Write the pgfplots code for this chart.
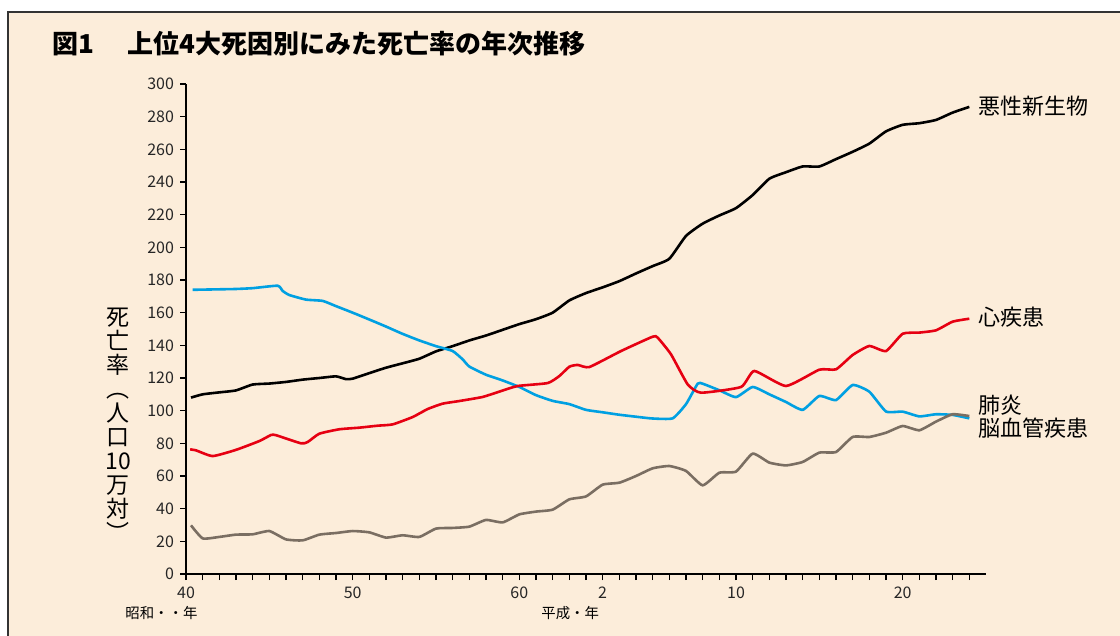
\documentclass[border=0pt]{standalone}
\usepackage{pgfplots}
\usepackage{pgfplotstable}
\pgfplotsset{compat=1.18}
\usepackage{fontspec}
\setmainfont{Noto Sans CJK JP}
\definecolor{bg}{RGB}{252,237,218}
\definecolor{cblue}{RGB}{0,160,226}
\definecolor{cred}{RGB}{230,0,18}
\definecolor{cgray}{RGB}{122,110,98}

\pgfplotstableread{
t v
0.3 108
1 110
2 111.2
3 112.4
4 116
5 116.6
6 117.6
7 119
8 120
9 121
9.6 119.3
10 119.6
11 123
12 126.3
13 129
14 131.8
15 136.3
16 139.5
17 143
18 146
19 149.5
20 153
21 156
22 160
23 167.5
24 172
25 175.5
26 179.3
27 184
28 188.5
29 193
30 207
31 214.5
32 219.5
33 224
34 232
35 242
36 246
37 249.5
38 249.5
39 254
40 258.5
41 263.5
42 271
43 275
44 276
45 278
46 282.5
47 286
}\tblack

\pgfplotstableread{
t v
0.4 174
2 174.3
3 174.5
4 175
5.5 176.5
5.8 173.3
6.2 170.8
7.2 168
8.2 167.2
9 164
10 160
11 155.8
12 151.5
13 147
14 143
15 139.5
16 136.5
16.6 131.4
17 127
18 122
19 118.5
20 114.5
21 109.5
22 106
23 104
24 100.5
25 99
26 97.5
27 96.3
28 95.2
29.2 95.3
30 104
30.7 116.5
31 116.5
32 112.5
33 108.3
34 114.5
35 110
36 105.3
37 100.5
38 109
39 106.5
40 115.7
41 111.6
42 99.5
43 99.4
44 96.5
45 97.8
46 97.4
47 95.3
}\tblue

\pgfplotstableread{
t v
0.25 76.3
0.6 75.7
1.6 72.2
3 76
4.4 81.4
5.1 85.1
5.4 85
6.9 80
7.3 80.8
8 85.9
9.2 88.6
10.4 89.6
11.5 90.8
12.4 91.6
13.6 96.1
14.5 101
15.4 104.3
16.4 105.9
17.8 108.4
18.9 112
19.9 115.1
21.7 116.9
22.4 121.2
23 126.9
23.5 128
24.2 126.7
26.1 136.5
28 145.3
28.3 144.7
29.1 134.5
30.1 116.1
30.9 111
33.3 114.5
34.1 124.3
36 115.1
38 125.1
39 125.3
40 134.1
41 139.6
42 136.5
43 147.1
44 147.8
45 149.2
46 154.5
47 156.3
}\tred

\pgfplotstableread{
t v
0.3 29.8
1 21.8
2 22.7
3 24.1
4 24.3
5 26.3
6 21.2
7 20.6
8 24.1
9 25.1
10 26.3
11 25.5
12 22.3
13 23.7
14 22.7
15 27.8
16 28.2
17 29
18 33.1
19 31.6
20 36.5
21 38.2
22 39.4
23 45.7
24 47.5
25 54.7
26 55.9
27 60
28 64.7
29 66.1
30 63.1
31 54.3
32 62
33 62.7
34 73.7
35 68.2
36 66.5
37 68.6
38 74.3
39 74.7
40 83.9
41 83.9
42 86.5
43 90.6
44 88
45 93.3
46 97.8
47 96.7
}\tgray

\begin{document}
\begin{tikzpicture}
\begin{scope}[x=0.5pt,y=-0.5pt]
\path[use as bounding box] (0,0) rectangle (1120,636);
\fill[white] (0,0) rectangle (1120,636);
\fill[bg] (8,12) rectangle (1120,636);
\draw[black!80, line width=0.8pt] (8,636) -- (8,12) -- (1120,12);
\node[anchor=west, inner sep=0pt, font=\fontsize{13}{15}\selectfont\bfseries] at (52,44) {図1};
\node[anchor=west, inner sep=0pt, font=\fontsize{13}{15}\selectfont\bfseries] at (127,44) {上位4大死因別にみた死亡率の年次推移};
\node[align=center, inner sep=0pt, font=\fontsize{11.5}{12}\selectfont] at (118,425) {死\\亡\\率\\︵\\人\\口\\10\\万\\対\\︶};
\node[anchor=west, inner sep=0pt, font=\fontsize{11}{13}\selectfont] at (978,106) {悪性新生物};
\node[anchor=west, inner sep=0pt, font=\fontsize{11}{13}\selectfont] at (978,317) {心疾患};
\node[anchor=west, inner sep=0pt, font=\fontsize{11}{13}\selectfont] at (978,405) {肺炎};
\node[anchor=west, inner sep=0pt, font=\fontsize{11}{13}\selectfont] at (978,428) {脳血管疾患};
\node[anchor=west, inner sep=0pt, font=\fontsize{7.2}{8}\selectfont] at (125,613) {昭和・・年};
\node[anchor=west, inner sep=0pt, font=\fontsize{7.2}{8}\selectfont] at (541,613) {平成・年};
\end{scope}
\begin{axis}[
  at={(93pt,-287pt)}, anchor=south west,
  scale only axis, width=400pt, height=245pt,
  xmin=0, xmax=48, ymin=0, ymax=300,
  axis x line=bottom, axis y line=left,
  axis line style={-, line width=0.9pt, black},
  xtick={0,10,20,25,33,43}, xticklabels={40,50,60,2,10,20},
  minor xtick={1,...,47},
  ytick={0,20,...,300},
  tick align=outside,
  major tick length=3pt, minor tick length=3pt,
  every tick/.style={black, line width=0.6pt},
  tick label style={font=\fontsize{8}{9}\selectfont, text=black!85},
  yticklabel style={xshift=0.5pt},
  /pgf/number format/assume math mode=true,
  clip=false,
]
\addplot[black, line width=1.3pt, smooth, tension=0.3] table[x=t,y=v] {\tblack};
\addplot[cblue, line width=1.3pt, smooth, tension=0.3] table[x=t,y=v] {\tblue};
\addplot[cred, line width=1.3pt, smooth, tension=0.3] table[x=t,y=v] {\tred};
\addplot[cgray, line width=1.3pt, smooth, tension=0.3] table[x=t,y=v] {\tgray};
\end{axis}
\end{tikzpicture}
\end{document}
